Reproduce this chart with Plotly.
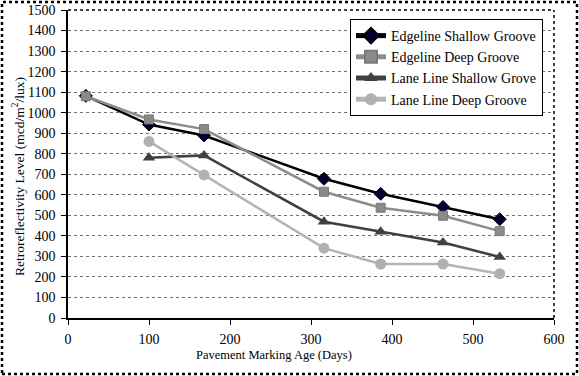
import plotly.graph_objects as go

# Data
days_edge = [22, 100, 168, 316, 386, 463, 533]
edge_shallow = [1082, 942, 889, 678, 605, 541, 481]
edge_deep = [1080, 967, 920, 615, 537, 498, 423]

days_lane = [100, 168, 316, 386, 463, 533]
lane_shallow = [780, 792, 469, 420, 368, 297]
lane_deep = [860, 697, 340, 263, 263, 216]

series_names = ["Edgeline Shallow Groove", "Edgeline Deep Groove",
                "Lane Line Shallow Grove", "Lane Line Deep Groove"]

x_ticks = [0, 100, 200, 300, 400, 500, 600]
y_ticks = list(range(0, 1501, 100))

x_title = "Pavement Marking Age (Days)"
y_title = "Retroreflectivity Level (mcd/m<sup>2</sup>/lux)"

W, H = 579, 376
L, R, T, B = 68, 25, 10, 58
pw, ph = W - L - R, H - T - B

fig = go.Figure()
fig.add_trace(go.Scatter(x=days_edge, y=edge_shallow, name=series_names[0], mode="lines+markers",
                         line=dict(color="#000000", width=2.5),
                         marker=dict(symbol="diamond", size=10, color="#000033",
                                     line=dict(color="#000000", width=1))))
fig.add_trace(go.Scatter(x=days_edge, y=edge_deep, name=series_names[1], mode="lines+markers",
                         line=dict(color="#8c8c8c", width=2.5),
                         marker=dict(symbol="square", size=9, color="#8a8a8a",
                                     line=dict(color="#7a7a7a", width=1))))
fig.add_trace(go.Scatter(x=days_lane, y=lane_shallow, name=series_names[2], mode="lines+markers",
                         line=dict(color="#404040", width=2.5),
                         marker=dict(symbol="triangle-up", size=11, color="#404040")))
fig.add_trace(go.Scatter(x=days_lane, y=lane_deep, name=series_names[3], mode="lines+markers",
                         line=dict(color="#b4b4b4", width=2.5),
                         marker=dict(symbol="circle", size=11, color="#b0b0b0")))

font_family = "Liberation Serif"

fig.update_layout(
    width=W, height=H,
    margin=dict(l=L, r=R, t=T, b=B, autoexpand=False),
    paper_bgcolor="white", plot_bgcolor="white",
    font=dict(family=font_family, size=13, color="#000000"),
    showlegend=True,
    legend=dict(x=(350 - L) / pw, y=(318 - 19) / ph, xanchor="left", yanchor="top",
                bgcolor="white", bordercolor="#000000", borderwidth=1,
                font=dict(family=font_family, size=14, color="#000000"),
                itemsizing="constant", itemwidth=30, tracegroupgap=0),
    xaxis=dict(range=[0, 600], tickvals=x_ticks, ticktext=[str(v) for v in x_ticks],
               showgrid=False, zeroline=False, showline=True, linecolor="#000000", linewidth=1.5,
               ticks="outside", ticklen=5, tickcolor="#000000", automargin=False,
               ticklabelstandoff=2,
               tickfont=dict(family=font_family, size=14)),
    yaxis=dict(range=[0, 1500], tickvals=y_ticks, ticktext=[str(v) for v in y_ticks],
               showgrid=True, gridcolor="#707070", griddash="dot", gridwidth=1,
               zeroline=False, showline=True, linecolor="#000000", linewidth=1.5,
               ticks="outside", ticklen=5, tickcolor="#000000", automargin=False,
               ticklabelstandoff=3,
               tickfont=dict(family=font_family, size=14)),
    annotations=[
        dict(text=x_title, xref="paper", yref="paper", x=(274 - L) / pw, y=(318 - 355) / ph,
             xanchor="center", yanchor="middle", showarrow=False,
             font=dict(family=font_family, size=12.5)),
        dict(text=y_title, xref="paper", yref="paper", x=(19 - L) / pw, y=(318 - 177) / ph,
             xanchor="center", yanchor="middle", showarrow=False, textangle=-90,
             font=dict(family=font_family, size=13.5)),
    ],
    shapes=[
        dict(type="line", xref="paper", yref="paper", x0=1, x1=1, y0=0, y1=1,
             line=dict(color="#000000", width=1.5, dash="dot")),
        dict(type="line", xref="paper", yref="paper", x0=0, x1=1, y0=1, y1=1,
             line=dict(color="#000000", width=1.5, dash="dot")),
        dict(type="rect", xref="paper", yref="paper",
             x0=(2 - L) / pw, x1=(W - 2 - L) / pw,
             y0=-(B - 2) / ph, y1=(H - B - 2) / ph,
             line=dict(color="#000000", width=2.5, dash="dot")),
    ],
)

fig.write_html("out.html", config={"displayModeBar": False},
               post_script="document.body.style.margin='0';")
